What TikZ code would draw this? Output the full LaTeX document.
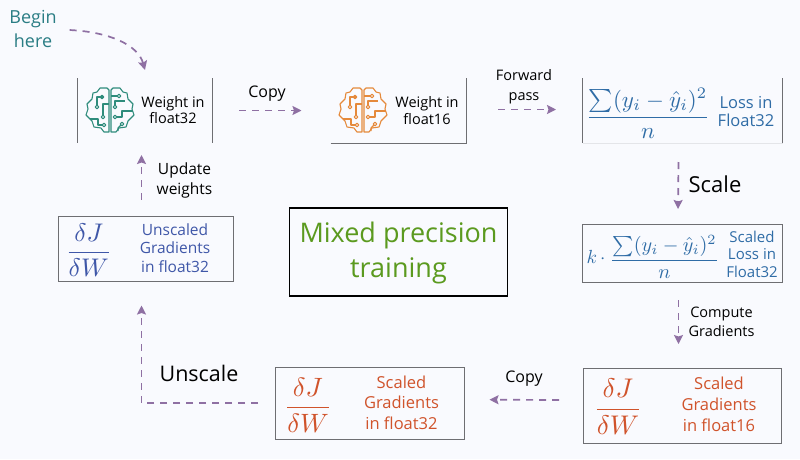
\documentclass[tikz,border=0pt]{standalone}
\usepackage{graphicx}
\usepackage{amsmath}
\usepackage{fontspec}
\setmainfont{Open Sans}
\usetikzlibrary{arrows.meta}
\definecolor{bgc}{HTML}{F9FAFE}
\definecolor{flowc}{HTML}{8F70A3}
\definecolor{edgec}{HTML}{6E6E72}
\definecolor{tealc}{HTML}{2A7D84}
\definecolor{brainA}{HTML}{2F8C7C}
\definecolor{brainB}{HTML}{E58A3C}
\definecolor{lossc}{HTML}{2F6CA6}
\definecolor{unsc}{HTML}{3F57A8}
\definecolor{redc}{HTML}{D0532B}
\definecolor{greenc}{HTML}{5B9A1F}
\newcommand{\hf}[2]{\fontsize{#1}{#2}\selectfont}
\newcommand{\lossfrac}{\dfrac{\sum(y_i-\hat{y}_i)^2}{n}}
\newcommand{\gradfrac}{\dfrac{\delta J}{\delta W}}
\tikzset{
  x=1pt,y=-1pt,
  every node/.style={inner sep=0pt,outer sep=0pt,align=center},
  sides/.style={draw=edgec,line width=1pt},
  framed/.style={draw=edgec,line width=1pt},
  flow/.style={draw=flowc,line width=1.7pt,dash pattern=on 7pt off 6pt,
    -{Stealth[length=9pt,width=9pt,inset=1.5pt,fill=flowc]}},
  brainpic/.pic={
    \begin{scope}[line width=1.1pt,line join=round,x=1pt,y=-1pt]
      \draw (-1,-20) -- (-1,22) -- (-6,22) -- (-9,18) -- (-16,17) -- (-18,11) -- (-24,5)
        -- (-22,-1) -- (-23,-6) -- (-18,-11) -- (-17,-17) -- (-13,-18) -- (-10,-22) -- (-3,-22) -- cycle;
      \draw (1,-20) -- (1,22) -- (6,22) -- (9,18) -- (16,17) -- (18,11) -- (24,5)
        -- (22,-1) -- (23,-6) -- (18,-11) -- (17,-17) -- (13,-18) -- (10,-22) -- (3,-22) -- cycle;
      \draw (-6.5,-13) -- (-13,-13) -- (-13,-4.5);
      \draw (-1,-6) -- (-7,-6) -- (-7,5.5);
      \draw (-7.5,15) -- (-12,15) -- (-12,9) -- (-20,9);
      \draw (7.5,-14) -- (1,-14);
      \draw (5,-4.5) -- (5,-9) -- (15,-9);
      \draw (6.5,7) -- (12,7) -- (12,1) -- (22.5,1);
      \draw (11,15) -- (8,18) -- (8,21);
      \foreach \p in {(-8,-13),(-13,-3),(-7,7),(-6,15),(9,-14),(5,-3),(5,7),(12,14)}
        \draw \p circle (1.8);
    \end{scope}
  }
}
\begin{document}
\begin{tikzpicture}
\fill[bgc] (0,0) rectangle (800,459);
\useasboundingbox (0,0) rectangle (800,459);

% boxes
\node[minimum width=135pt,minimum height=65pt] (w32) at (145,110.5) {};
\node[minimum width=136pt,minimum height=65pt] (w16) at (398.5,110.5) {};
\node[minimum width=200pt,minimum height=65pt] (loss) at (682.5,110.5) {};
\node[framed,minimum width=200pt,minimum height=58pt] (scaled) at (682,253) {};
\node[framed,minimum width=198pt,minimum height=75pt] (g16) at (682,405.5) {};
\node[framed,minimum width=189pt,minimum height=72pt] (g32) at (369.5,403) {};
\node[framed,minimum width=175pt,minimum height=65pt] (un) at (145.5,248.5) {};
\node[draw=black,line width=1.1pt,minimum width=218pt,minimum height=88pt] (mixed) at (398.5,252) {};

\draw[sides] (w32.north west) -- (w32.south west);
\draw[sides] (w32.north east) -- (w32.south east);
\draw[sides] (w16.south west) -- (w16.south east) -- (w16.north east);
\draw[sides] (loss.north west) -- (loss.south west);
\draw[sides] (loss.north east) -- (loss.south east);
\draw[draw=bgc!85!edgec,line width=1pt] (loss.south west) -- (loss.south east);

% icons
\pic[draw=brainA] at (110,110) {brainpic};
\pic[draw=brainB] at (363,110) {brainpic};

% texts
\node[text=tealc,font=\hf{18}{24}] (begin) at (33,29) {Begin\\here};
\node[font=\hf{14.5}{16.5}] (tw32) at (173,110) {Weight in\\float32};
\node[font=\hf{14.5}{16.5}] (tw16) at (427,110.5) {Weight in\\float16};
\node[font=\hf{16}{17}] (lcopy) at (267,94) {Copy};
\node[font=\hf{14.5}{20}] (lfwd) at (524,87) {Forward\\pass};
\node[text=lossc] (fl) at (648,113.5) {\scalebox{2.3}{$\lossfrac$}};
\node[text=lossc,font=\hf{16.5}{18}] (tl) at (746,111.5) {Loss in\\Float32};
\node[font=\hf{22}{24}] (lscale) at (715,184) {Scale};
\node[text=lossc] (kk) at (596,256.5) {\scalebox{1.9}{$k\,\cdot$}};
\node[text=lossc] (fs) at (664.5,257) {\scalebox{2.02}{$\lossfrac$}};
\node[text=lossc,font=\hf{15}{17.5}] (ts) at (752,254) {Scaled\\Loss in\\Float32};
\node[font=\hf{14.5}{19}] (lcomp) at (721.5,322) {Compute\\Gradients};
\node[text=redc] (f16) at (618,407) {\scalebox{2.7}{$\gradfrac$}};
\node[text=redc,font=\hf{16.5}{21}] (t16) at (719,404) {Scaled\\Gradients\\in float16};
\node[font=\hf{16}{17}] (lcopyb) at (524,379) {Copy};
\node[text=redc] (f32) at (308,405) {\scalebox{2.65}{$\gradfrac$}};
\node[text=redc,font=\hf{16.5}{20.5}] (t32) at (401.5,402.5) {Scaled\\Gradients\\in float32};
\node[font=\hf{21.5}{24}] (lun) at (199,373) {Unscale};
\node[text=unsc] (fu) at (88.7,250) {\scalebox{2.55}{$\gradfrac$}};
\node[text=unsc,font=\hf{15.5}{18.8}] (tu) at (175,248) {Unscaled\\Gradients\\in float32};
\node[font=\hf{15.5}{20.5}] (lup) at (184.5,180.5) {Update\\weights};
\node[text=greenc,font=\hf{27}{35}] (tm) at (398.5,252.5) {Mixed precision\\training};

% connectors
\draw[flow] ([xshift=13pt,yshift=-1pt]begin.east) .. controls +(40,2) and +(-7,-25) .. ([yshift=8pt]w32.north);
\draw[flow] ([xshift=26.5pt]w32.east) -- ([xshift=-29pt]w16.west);
\draw[flow] ([xshift=31.5pt,yshift=1pt]w16.east) -- ([xshift=-26.5pt,yshift=1pt]loss.west);
\draw[flow] ([xshift=-4pt,yshift=-19pt]loss.south) -- ([xshift=-4pt,yshift=15pt]scaled.north);
\draw[flow] ([xshift=-3.5pt,yshift=-18pt]scaled.south) -- ([xshift=-3.5pt,yshift=24pt]g16.north);
\draw[flow] ([xshift=-24pt,yshift=5.5pt]g16.west) -- ([xshift=25.5pt,yshift=3.3pt]g32.east);
\draw[flow] ([xshift=-17pt]g32.west) -| ([xshift=-4pt,yshift=-24.5pt]un.south);
\draw[flow] ([xshift=-4pt,yshift=16.5pt]un.north) -- ([xshift=-3.5pt,yshift=-12pt]w32.south);
\end{tikzpicture}
\end{document}
